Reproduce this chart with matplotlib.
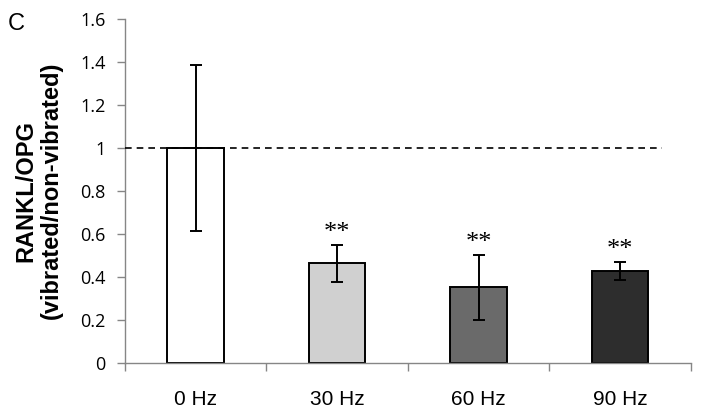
import numpy as np
import matplotlib.pyplot as plt

labels = ['0 Hz', '30 Hz', '60 Hz', '90 Hz']
ratio = [1.0, 0.462, 0.351, 0.426]
err = [0.385, 0.085, 0.152, 0.042]
bar_colors = ['#ffffff', '#d0d0d0', '#6a6a6a', '#2d2d2d']
stars = ['', '**', '**', '**']

fig = plt.figure(figsize=(7.02, 4.13), dpi=100)
ax = fig.add_axes([0.178, 0.122, 0.806, 0.832])

x = np.arange(len(labels))
ax.bar(x, ratio, width=0.4, color=bar_colors, edgecolor='black', linewidth=1.4, zorder=2)
ax.errorbar(x, ratio, yerr=err, fmt='none', ecolor='black', elinewidth=1.4,
            capsize=4, capthick=1.4, zorder=3)

for xi, r, e, s in zip(x, ratio, err, stars):
    if s:
        ax.text(xi, r + e + 0.005, s, ha='center', va='bottom', fontsize=19,
                family='Liberation Serif')

ax.plot([-0.5, 3.3], [1, 1], color='black', linestyle=(0, (4, 3)), linewidth=1.2, zorder=4)

ax.set_xlim(-0.5, 3.5)
ax.set_ylim(0, 1.6)
ax.set_yticks(np.arange(0, 1.61, 0.2))
ax.set_yticklabels(['0', '0.2', '0.4', '0.6', '0.8', '1', '1.2', '1.4', '1.6'],
                   family='Open Sans', fontsize=13)
ax.set_xticks(x)
ax.set_xticklabels(labels, family='Liberation Sans', fontsize=15)
ax.set_xticks(np.arange(-0.5, 3.6, 1), minor=True)
ax.tick_params(axis='x', which='major', length=0, pad=20)
ax.tick_params(axis='x', which='minor', length=6, color='#868686', width=1)
ax.tick_params(axis='y', length=6, color='#868686', width=1, pad=8)

for side in ['top', 'right']:
    ax.spines[side].set_visible(False)
for side in ['left', 'bottom']:
    ax.spines[side].set_color('#868686')
    ax.spines[side].set_linewidth(1)

ax.set_ylabel('RANKL/OPG\n(vibrated/non-vibrated)', family='Liberation Sans',
              fontweight='bold', fontsize=17, labelpad=12, linespacing=1.15)

fig.text(0.011, 0.927, 'C', family='Liberation Sans', fontsize=17, va='baseline')

fig.savefig('out.png', dpi=100)
